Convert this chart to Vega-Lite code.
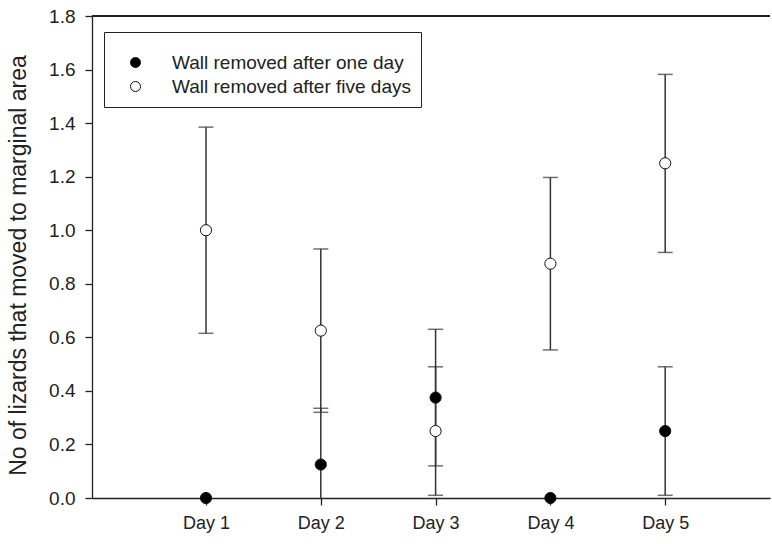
{
  "$schema": "https://vega.github.io/schema/vega-lite/v6.json",
  "width": 678,
  "height": 482,
  "autosize": {"type": "none"},
  "padding": {"left": 92, "top": 16, "right": 2, "bottom": 46},
  "background": "white",
  "config": {
    "font": "Liberation Sans",
    "view": {"stroke": null},
    "axis": {
      "domainColor": "#222",
      "domainWidth": 1.3,
      "tickColor": "#222",
      "tickWidth": 1.3,
      "labelColor": "#222",
      "titleColor": "#222",
      "labelFont": "Liberation Sans",
      "titleFont": "Liberation Sans",
      "grid": false
    }
  },
  "data": {
    "values": [
      {"day": "Day 1", "group": "Wall removed after one day", "mean": 0, "lo": null, "hi": null},
      {"day": "Day 1", "group": "Wall removed after five days", "mean": 1.0, "lo": 0.615, "hi": 1.385},
      {"day": "Day 2", "group": "Wall removed after one day", "mean": 0.125, "lo": -0.085, "hi": 0.335},
      {"day": "Day 2", "group": "Wall removed after five days", "mean": 0.625, "lo": 0.32, "hi": 0.93},
      {"day": "Day 3", "group": "Wall removed after one day", "mean": 0.375, "lo": 0.12, "hi": 0.63},
      {"day": "Day 3", "group": "Wall removed after five days", "mean": 0.25, "lo": 0.01, "hi": 0.49},
      {"day": "Day 4", "group": "Wall removed after one day", "mean": 0, "lo": null, "hi": null},
      {"day": "Day 4", "group": "Wall removed after five days", "mean": 0.875, "lo": 0.553, "hi": 1.197},
      {"day": "Day 5", "group": "Wall removed after one day", "mean": 0.25, "lo": 0.01, "hi": 0.49},
      {"day": "Day 5", "group": "Wall removed after five days", "mean": 1.25, "lo": 0.917, "hi": 1.582}
    ]
  },
  "encoding": {
    "x": {
      "field": "day",
      "type": "nominal",
      "scale": {"type": "point", "padding": 0.953, "align": 0.521},
      "axis": {"title": null, "labelAngle": 0, "labelFontSize": 18, "labelPadding": 9, "tickSize": 7}
    }
  },
  "layer": [
    {
      "mark": {"type": "rule", "color": "#222", "strokeWidth": 1.3},
      "encoding": {"x": null, "y": {"datum": 1.8, "type": "quantitative"}}
    },
    {
      "mark": {"type": "rule", "color": "#333", "strokeWidth": 1.5, "clip": true},
      "encoding": {
        "y": {
          "field": "lo",
          "type": "quantitative",
          "scale": {"domain": [0, 1.8], "nice": false},
          "axis": {
            "title": "No of lizards that moved to marginal area",
            "titleFontSize": 23,
            "titleFontWeight": "normal",
            "titlePadding": 18,
            "titleY": 249,
            "values": [0, 0.2, 0.4, 0.6, 0.8, 1.0, 1.2, 1.4, 1.6, 1.8],
            "format": ".1f",
            "labelFontSize": 19,
            "labelPadding": 10,
            "tickSize": 7
          }
        },
        "y2": {"field": "hi"}
      }
    },
    {
      "mark": {"type": "tick", "color": "#333", "size": 15, "thickness": 1.5, "clip": true},
      "encoding": {"y": {"field": "hi", "type": "quantitative"}}
    },
    {
      "mark": {"type": "tick", "color": "#333", "size": 15, "thickness": 1.5, "clip": true},
      "encoding": {"y": {"field": "lo", "type": "quantitative"}}
    },
    {
      "mark": {"type": "point", "shape": "circle", "filled": true, "size": 125, "stroke": "#111", "strokeWidth": 1, "opacity": 1},
      "encoding": {
        "y": {"field": "mean", "type": "quantitative"},
        "fill": {
          "field": "group",
          "type": "nominal",
          "scale": {"domain": ["Wall removed after one day", "Wall removed after five days"], "range": ["black", "white"]},
          "legend": {
            "title": " ",
            "titleFontSize": 11,
            "titlePadding": 0,
            "orient": "none",
            "legendX": 12,
            "legendY": 16,
            "strokeColor": "#222",
            "fillColor": "white",
            "padding": 10,
            "symbolSize": 100,
            "symbolStrokeColor": "#111",
            "symbolStrokeWidth": 1,
            "symbolOffset": 12,
            "labelOffset": 27,
            "labelFontSize": 19,
            "labelColor": "#222",
            "labelLimit": 400,
            "rowPadding": 4
          }
        }
      }
    }
  ]
}
